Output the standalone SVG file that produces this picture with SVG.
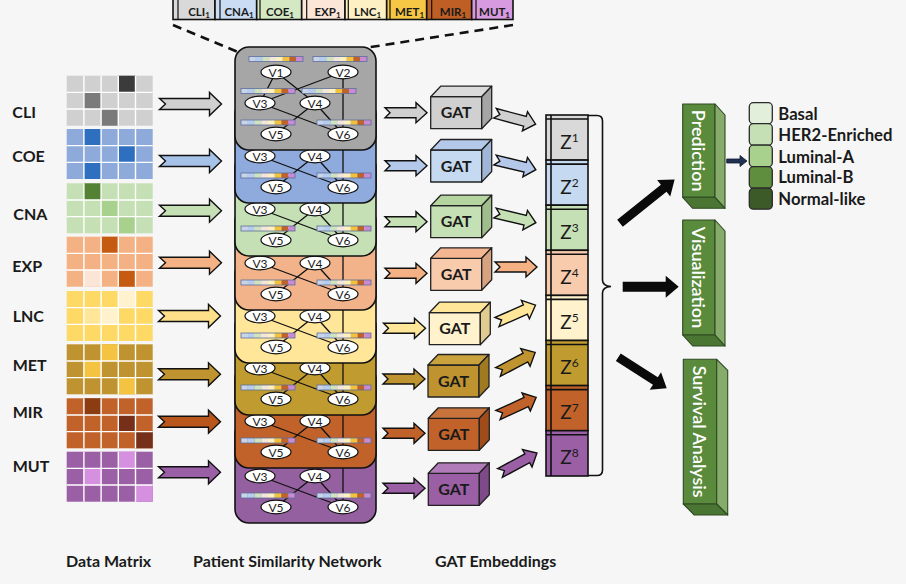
<svg xmlns="http://www.w3.org/2000/svg" width="906" height="584" viewBox="0 0 906 584">
<style>
text{font-family:Lato,'Liberation Sans',sans-serif;fill:#1a1a1a}
.lbl{font-size:16px;font-weight:700}
.tb{font-size:11.5px;font-weight:700;text-anchor:middle}
.ax{stroke:#111;stroke-width:1.4;stroke-linejoin:miter}
.edge{stroke:#111;stroke-width:1.3;fill:none}
.node ellipse{fill:#fff;stroke:#111;stroke-width:1.2}
.vt{font-size:12px;text-anchor:middle;dominant-baseline:central}
.layer{stroke:#111;stroke-width:1.6}
.box{stroke:#222;stroke-width:1.3;stroke-linejoin:round}
.gat{font-size:16px;font-weight:700;text-anchor:middle}
.z{font-size:19px;text-anchor:middle}
.zc{stroke:#111;stroke-width:1.6}
.gr{stroke:#2e4a22;stroke-width:1.1;stroke-linejoin:round}
.gt{font-size:18px;font-weight:600;text-anchor:middle;dominant-baseline:central}
.gt{fill:#fff}
.leg{stroke:#2a2a2a;stroke-width:1.3}
.lt{font-size:16.7px;font-weight:700}
</style>
<defs>
<path id="ba" class="ax" d="M0,-5.5H50V-11.5L62,0L50,11.5V5.5H0L6,0Z"/>
<path id="sa" class="ax" d="M0,-5H31V-10L42,0L31,10V5H0L5,0Z"/>
<g id="grid" stroke="#fff" stroke-width="1.4">
<path d="M17.2,0V50M34.4,0V50M51.6,0V50M68.8,0V50M0,16.67H86M0,33.33H86"/>
</g>
<g id="fb">
<rect x="0" width="6.75" height="5" fill="#c8d4ea"/>
<rect x="6.75" width="6.75" height="5" fill="#b5cdee"/>
<rect x="13.5" width="6.75" height="5" fill="#cfe3c1"/>
<rect x="20.25" width="6.75" height="5" fill="#f3e6da"/>
<rect x="27" width="6.75" height="5" fill="#fff0c2"/>
<rect x="33.75" width="6.75" height="5" fill="#f2c23a"/>
<rect x="40.5" width="6.75" height="5" fill="#c0622a"/>
<rect x="47.25" width="6.75" height="5" fill="#c98ad6"/>
<rect width="54" height="5" fill="none" stroke="#5f6f9a" stroke-width="0.8"/>
</g>
<path id="eT" class="edge" d="M276,72L260,103M276,72L315,103M343,72L260,103"/>
<g id="nT">
<use href="#fb" x="249" y="56.5"/><use href="#fb" x="313" y="56.5"/>
<use href="#fb" x="241" y="88.5"/><use href="#fb" x="302" y="88.5"/>
<g class="node"><ellipse cx="276" cy="72" rx="15" ry="6.8"/><text class="vt" x="276" y="72">V1</text></g>
<g class="node"><ellipse cx="343" cy="72" rx="15" ry="6.8"/><text class="vt" x="343" y="72">V2</text></g>
</g>
<g id="netB">
<path class="edge" d="M343,72V134M260,103L343,134M315,103L276,134M315,103L343,134"/>
<use href="#fb" x="241" y="120"/><use href="#fb" x="317" y="120"/>
<g class="node"><ellipse cx="260" cy="103" rx="15" ry="6.8"/><text class="vt" x="260" y="103">V3</text></g>
<g class="node"><ellipse cx="315" cy="103" rx="15" ry="6.8"/><text class="vt" x="315" y="103">V4</text></g>
<g class="node"><ellipse cx="276" cy="134" rx="15" ry="6.8"/><text class="vt" x="276" y="134">V5</text></g>
<g class="node"><ellipse cx="343" cy="134" rx="15" ry="6.8"/><text class="vt" x="343" y="134">V6</text></g>
</g>
</defs>
<rect width="906" height="584" fill="#f6f6f6"/>

<!-- top feature bar -->
<g id="feature-bar">
<rect x="173" y="-1" width="42" height="20.5" fill="#d9d9d9" class="zc"/>
<rect x="215" y="-1" width="41.7" height="20.5" fill="#c9dcf3" class="zc"/>
<rect x="256.7" y="-1" width="45" height="20.5" fill="#d3e8c3" class="zc"/>
<rect x="301.7" y="-1" width="43.3" height="20.5" fill="#fbe6d8" class="zc"/>
<rect x="345" y="-1" width="41.7" height="20.5" fill="#fdf0c4" class="zc"/>
<rect x="386.7" y="-1" width="40" height="20.5" fill="#f6c744" class="zc"/>
<rect x="426.7" y="-1" width="45" height="20.5" fill="#bf5f26" class="zc"/>
<rect x="471.7" y="-1" width="41.3" height="20.5" fill="#d79ae0" class="zc"/>
<path d="M178,-1V19.5M220,-1V19.5M260,-1V19.5M306.7,-1V19.5M348.3,-1V19.5M390,-1V19.5M431.7,-1V19.5M476,-1V19.5" stroke="#111" stroke-width="1.2"/>
<text class="tb" x="199" y="15.5">CLI<tspan font-size="8" dy="2.5">1</tspan></text>
<text class="tb" x="239" y="15.5">CNA<tspan font-size="8" dy="2.5">1</tspan></text>
<text class="tb" x="280" y="15.5">COE<tspan font-size="8" dy="2.5">1</tspan></text>
<text class="tb" x="327.5" y="15.5">EXP<tspan font-size="8" dy="2.5">1</tspan></text>
<text class="tb" x="367.5" y="15.5">LNC<tspan font-size="8" dy="2.5">1</tspan></text>
<text class="tb" x="409.5" y="15.5">MET<tspan font-size="8" dy="2.5">1</tspan></text>
<text class="tb" x="453" y="15.5">MIR<tspan font-size="8" dy="2.5">1</tspan></text>
<text class="tb" x="494.5" y="15.5">MUT<tspan font-size="8" dy="2.5">1</tspan></text>
</g>
<g id="zoom-lines" stroke="#111" stroke-width="2.6" stroke-dasharray="9 6" fill="none">
<path d="M173,25L238,52"/>
<path d="M513,25L313,56"/>
</g>

<!-- data matrices -->
<g id="mat-cli">
<text class="lbl" x="12.3" y="118.3">CLI</text>
<rect x="66.7" y="75.7" width="86" height="50" fill="#d0d0d0"/>
<rect x="118.3" y="75.7" width="17.2" height="16.67" fill="#3b3b3b"/>
<rect x="83.9" y="92.37" width="17.2" height="16.67" fill="#7b7b7b"/>
<rect x="101.1" y="109.03" width="17.2" height="16.67" fill="#7a7a7a"/>
<use href="#grid" x="66.7" y="75.7"/>
</g>
<g id="mat-coe">
<text class="lbl" x="12.3" y="162.3">COE</text>
<rect x="66.7" y="129" width="86" height="50" fill="#8eaadb"/>
<rect x="83.9" y="129" width="17.2" height="16.67" fill="#2f6fbf"/>
<rect x="118.3" y="145.67" width="17.2" height="16.67" fill="#2f6fbf"/>
<rect x="83.9" y="162.33" width="17.2" height="16.67" fill="#2f6fbf"/>
<use href="#grid" x="66.7" y="129"/>
</g>
<g id="mat-cna">
<text class="lbl" x="13.3" y="220">CNA</text>
<rect x="66.7" y="183.3" width="86" height="50" fill="#c5e0b4"/>
<rect x="83.9" y="183.3" width="17.2" height="16.67" fill="#548235"/>
<rect x="101.1" y="199.97" width="17.2" height="16.67" fill="#a9d18e"/>
<rect x="118.3" y="216.63" width="17.2" height="16.67" fill="#a9d18e"/>
<use href="#grid" x="66.7" y="183.3"/>
</g>
<g id="mat-exp">
<text class="lbl" x="12.3" y="271.7">EXP</text>
<rect x="66.7" y="236.7" width="86" height="50" fill="#f4b183"/>
<rect x="101.1" y="236.7" width="17.2" height="16.67" fill="#c55a11"/>
<rect x="83.9" y="270.03" width="17.2" height="16.67" fill="#fbe5d6"/>
<rect x="118.3" y="270.03" width="17.2" height="16.67" fill="#c55a11"/>
<use href="#grid" x="66.7" y="236.7"/>
</g>
<g id="mat-lnc">
<text class="lbl" x="12.7" y="321.7">LNC</text>
<rect x="66.7" y="291" width="86" height="50" fill="#ffd966"/>
<rect x="118.3" y="291" width="17.2" height="16.67" fill="#fff2cc"/>
<rect x="83.9" y="307.67" width="17.2" height="16.67" fill="#ffe699"/>
<rect x="101.1" y="307.67" width="17.2" height="16.67" fill="#fff2cc"/>
<use href="#grid" x="66.7" y="291"/>
</g>
<g id="mat-met">
<text class="lbl" x="12.7" y="371">MET</text>
<rect x="66.7" y="344.3" width="86" height="50" fill="#bf9430"/>
<rect x="101.1" y="344.3" width="17.2" height="16.67" fill="#f5c342"/>
<rect x="83.9" y="360.97" width="17.2" height="16.67" fill="#f5c342"/>
<rect x="118.3" y="377.63" width="17.2" height="16.67" fill="#f5c342"/>
<use href="#grid" x="66.7" y="344.3"/>
</g>
<g id="mat-mir">
<text class="lbl" x="12.7" y="418.3">MIR</text>
<rect x="66.7" y="398.3" width="86" height="50" fill="#c0622a"/>
<rect x="83.9" y="398.3" width="17.2" height="16.67" fill="#8c3c12"/>
<rect x="118.3" y="414.97" width="17.2" height="16.67" fill="#76301a"/>
<rect x="135.5" y="431.63" width="17.2" height="16.67" fill="#76301a"/>
<use href="#grid" x="66.7" y="398.3"/>
</g>
<g id="mat-mut">
<text class="lbl" x="12.7" y="471.7">MUT</text>
<rect x="66.7" y="451.7" width="86" height="50" fill="#9b5fa6"/>
<rect x="118.3" y="451.7" width="17.2" height="16.67" fill="#d591e0"/>
<rect x="83.9" y="468.37" width="17.2" height="16.67" fill="#d591e0"/>
<rect x="135.5" y="485.03" width="17.2" height="16.67" fill="#d591e0"/>
<use href="#grid" x="66.7" y="451.7"/>
</g>

<!-- patient similarity network layers (bottom first) -->
<g id="net-mut" transform="translate(0,373)"><rect class="layer" x="235" y="47" width="141" height="103" rx="14" fill="#9560a0"/><use href="#netB"/></g>
<g id="net-mir" transform="translate(0,318)"><rect class="layer" x="235" y="47" width="141" height="103" rx="14" fill="#c0622a"/><use href="#netB"/></g>
<g id="net-met" transform="translate(0,265)"><rect class="layer" x="235" y="47" width="141" height="103" rx="14" fill="#bf9b30"/><use href="#netB"/></g>
<g id="net-lnc" transform="translate(0,213)"><rect class="layer" x="235" y="47" width="141" height="103" rx="14" fill="#ffe699"/><use href="#netB"/></g>
<g id="net-exp" transform="translate(0,160)"><rect class="layer" x="235" y="47" width="141" height="103" rx="14" fill="#f2b38a"/><use href="#netB"/></g>
<g id="net-cna" transform="translate(0,106)"><rect class="layer" x="235" y="47" width="141" height="103" rx="14" fill="#c5e0b4"/><use href="#netB"/></g>
<g id="net-coe" transform="translate(0,53)"><rect class="layer" x="235" y="47" width="141" height="103" rx="14" fill="#8faadc"/><use href="#netB"/></g>
<g id="net-cli"><rect class="layer" x="235" y="47" width="141" height="103" rx="14" fill="#a6a6a6"/><use href="#eT"/><use href="#netB"/><use href="#nT"/></g>

<!-- GAT boxes -->
<g id="gat-cli" transform="translate(430.7,96.7)"><rect class="box" width="51" height="32" fill="#d0d0d0"/><polygon class="box" points="0,0 51,0 61,-10.5 10,-10.5" fill="#dadada"/><polygon class="box" points="51,0 61,-10.5 61,21.5 51,32" fill="#a5a5a5"/><text class="gat" x="25.5" y="21.7">GAT</text></g>
<g id="gat-coe" transform="translate(430.7,150)"><rect class="box" width="51" height="32" fill="#c5d9f1"/><polygon class="box" points="0,0 51,0 61,-10.5 10,-10.5" fill="#b4c9e9"/><polygon class="box" points="51,0 61,-10.5 61,21.5 51,32" fill="#9fb6d6"/><text class="gat" x="25.5" y="21.7">GAT</text></g>
<g id="gat-cna" transform="translate(430.7,205.7)"><rect class="box" width="51" height="32" fill="#c5e0b4"/><polygon class="box" points="0,0 51,0 61,-10.5 10,-10.5" fill="#b5d5a0"/><polygon class="box" points="51,0 61,-10.5 61,21.5 51,32" fill="#a0bd8c"/><text class="gat" x="25.5" y="21.7">GAT</text></g>
<g id="gat-exp" transform="translate(430.7,258.3)"><rect class="box" width="51" height="32" fill="#f8cbad"/><polygon class="box" points="0,0 51,0 61,-10.5 10,-10.5" fill="#f4b690"/><polygon class="box" points="51,0 61,-10.5 61,21.5 51,32" fill="#d7a27f"/><text class="gat" x="25.5" y="21.7">GAT</text></g>
<g id="gat-lnc" transform="translate(429.3,312.7)"><rect class="box" width="51" height="32" fill="#fff2cc"/><polygon class="box" points="0,0 51,0 61,-10.5 10,-10.5" fill="#ffe699"/><polygon class="box" points="51,0 61,-10.5 61,21.5 51,32" fill="#e0cc90"/><text class="gat" x="25.5" y="21.7">GAT</text></g>
<g id="gat-met" transform="translate(428,365)"><rect class="box" width="51" height="32" fill="#bf9430"/><polygon class="box" points="0,0 51,0 61,-10.5 10,-10.5" fill="#c9a23e"/><polygon class="box" points="51,0 61,-10.5 61,21.5 51,32" fill="#a07a20"/><text class="gat" x="25.5" y="21.7">GAT</text></g>
<g id="gat-mir" transform="translate(428.3,418.3)"><rect class="box" width="51" height="32" fill="#c0622a"/><polygon class="box" points="0,0 51,0 61,-10.5 10,-10.5" fill="#c8723c"/><polygon class="box" points="51,0 61,-10.5 61,21.5 51,32" fill="#9f4b1a"/><text class="gat" x="25.5" y="21.7">GAT</text></g>
<g id="gat-mut" transform="translate(428.3,473.3)"><rect class="box" width="51" height="32" fill="#9b5fa6"/><polygon class="box" points="0,0 51,0 61,-10.5 10,-10.5" fill="#b07bb8"/><polygon class="box" points="51,0 61,-10.5 61,21.5 51,32" fill="#7f4a8a"/><text class="gat" x="25.5" y="21.7">GAT</text></g>

<!-- Z embeddings column -->
<g id="z-column">
<g id="z1"><rect class="zc" x="546" y="115" width="42" height="45.1" fill="#d9d9d9"/><path class="zc" d="M546,119H588M551,115V160.1"/><text class="z" x="569.5" y="148.5">Z<tspan font-size="12" dy="-7">1</tspan></text></g>
<g id="z2"><rect class="zc" x="546" y="160.1" width="42" height="45.1" fill="#c5d9f1"/><path class="zc" d="M546,164.1H588M551,160.1V205.2"/><text class="z" x="569.5" y="193.6">Z<tspan font-size="12" dy="-7">2</tspan></text></g>
<g id="z3"><rect class="zc" x="546" y="205.2" width="42" height="45.1" fill="#c5e0b4"/><path class="zc" d="M546,209.2H588M551,205.2V250.3"/><text class="z" x="569.5" y="238.7">Z<tspan font-size="12" dy="-7">3</tspan></text></g>
<g id="z4"><rect class="zc" x="546" y="250.3" width="42" height="45.1" fill="#f8cbad"/><path class="zc" d="M546,254.3H588M551,250.3V295.4"/><text class="z" x="569.5" y="283.8">Z<tspan font-size="12" dy="-7">4</tspan></text></g>
<g id="z5"><rect class="zc" x="546" y="295.4" width="42" height="45.1" fill="#fff2cc"/><path class="zc" d="M546,299.4H588M551,295.4V340.5"/><text class="z" x="569.5" y="328.9">Z<tspan font-size="12" dy="-7">5</tspan></text></g>
<g id="z6"><rect class="zc" x="546" y="340.5" width="42" height="45.1" fill="#bf9b30"/><path class="zc" d="M546,344.5H588M551,340.5V385.6"/><text class="z" x="569.5" y="374">Z<tspan font-size="12" dy="-7">6</tspan></text></g>
<g id="z7"><rect class="zc" x="546" y="385.6" width="42" height="45.1" fill="#c0622a"/><path class="zc" d="M546,389.6H588M551,385.6V430.7"/><text class="z" x="569.5" y="419.1">Z<tspan font-size="12" dy="-7">7</tspan></text></g>
<g id="z8"><rect class="zc" x="546" y="430.7" width="42" height="45.3" fill="#9b5fa6"/><path class="zc" d="M546,434.7H588M551,430.7V476"/><text class="z" x="569.5" y="464.2">Z<tspan font-size="12" dy="-7">8</tspan></text></g>
<path id="brace" d="M588,115.5H597Q602.5,115.5 602.5,121V280Q602.5,286 611,286.5Q602.5,287 602.5,293V470Q602.5,475.5 597,475.5H588" fill="none" stroke="#111" stroke-width="1.6"/>
</g>

<!-- output tasks -->
<g id="task-prediction">
<rect class="gr" x="682.7" y="104" width="32.3" height="93.3" fill="#5a8a3c"/>
<polygon class="gr" points="715,104 725,115 725,208.3 715,197.3" fill="#86ab6a"/>
<polygon class="gr" points="682.7,197.3 715,197.3 725,208.3 692.7,208.3" fill="#4b7532"/>
<text class="gt" transform="translate(699,150.7) rotate(90)">Prediction</text>
</g>
<g id="task-visualization">
<rect class="gr" x="682.7" y="220" width="32.3" height="115" fill="#5a8a3c"/>
<polygon class="gr" points="715,220 725,231 725,346 715,335" fill="#86ab6a"/>
<polygon class="gr" points="682.7,335 715,335 725,346 692.7,346" fill="#4b7532"/>
<text class="gt" transform="translate(699,277.5) rotate(90)">Visualization</text>
</g>
<g id="task-survival">
<rect class="gr" x="683.3" y="359.3" width="33.4" height="144.7" fill="#5a8a3c"/>
<polygon class="gr" points="716.7,359.3 727.7,370.3 727.7,515 716.7,504" fill="#86ab6a"/>
<polygon class="gr" points="683.3,504 716.7,504 727.7,515 694.3,515" fill="#4b7532"/>
<text class="gt" transform="translate(700,431.7) rotate(90)">Survival Analysis</text>
</g>

<!-- subtype legend -->
<g id="subtypes">
<rect class="leg" x="749.3" y="102.7" width="23" height="21" rx="4" fill="#e2efda"/>
<rect class="leg" x="749.3" y="123.7" width="23" height="21.5" rx="4" fill="#c5e0b4"/>
<rect class="leg" x="749.3" y="145.2" width="23" height="21.5" rx="4" fill="#a9d18e"/>
<rect class="leg" x="749.3" y="166.7" width="23" height="21.5" rx="4" fill="#5f8f3e"/>
<rect class="leg" x="749.3" y="188.2" width="23" height="21" rx="4" fill="#3b5a28"/>
<text class="lt" x="778.3" y="119.9">Basal</text>
<text class="lt" x="778.3" y="140.9">HER2-Enriched</text>
<text class="lt" x="778.3" y="162.6">Luminal-A</text>
<text class="lt" x="778.3" y="183.2">Luminal-B</text>
<text class="lt" x="778.3" y="205.2">Normal-like</text>
</g>

<!-- connectors -->
<g id="connectors">
<use href="#ba" transform="translate(159.5,104)" fill="#d0d0d0"/>
<use href="#ba" transform="translate(159.5,161)" fill="#a7c2e8"/>
<use href="#ba" transform="translate(159.5,210.7)" fill="#c5e0b4"/>
<use href="#ba" transform="translate(159.5,262.7)" fill="#f4b183"/>
<use href="#ba" transform="translate(158.5,316)" fill="#ffe08a"/>
<use href="#ba" transform="translate(158.5,374.3)" fill="#bf9430"/>
<use href="#ba" transform="translate(158.5,421.7)" fill="#b8561c"/>
<use href="#ba" transform="translate(158.5,472.3)" fill="#9b5fa6"/>

<use href="#sa" transform="translate(385,112.7)" fill="#d0d0d0"/>
<use href="#sa" transform="translate(385,165.7)" fill="#b4c9e9"/>
<use href="#sa" transform="translate(385,221.7)" fill="#c5e0b4"/>
<use href="#sa" transform="translate(385,273.3)" fill="#f4b183"/>
<use href="#sa" transform="translate(383.5,328.3)" fill="#ffe699"/>
<use href="#sa" transform="translate(383,379)" fill="#bf9430"/>
<use href="#sa" transform="translate(383,433.3)" fill="#c0622a"/>
<use href="#sa" transform="translate(383,488.3)" fill="#9b5fa6"/>

<use href="#sa" transform="translate(495,113.3) rotate(15)" fill="#d0d0d0"/>
<use href="#sa" transform="translate(495,160) rotate(13.4)" fill="#b4c9e9"/>
<use href="#sa" transform="translate(495,213) rotate(13.4)" fill="#c5e0b4"/>
<use href="#sa" transform="translate(495,267)" fill="#f4b183"/>
<use href="#sa" transform="translate(497,322) rotate(-23.6)" fill="#ffe699"/>
<use href="#sa" transform="translate(498,372) rotate(-27.8)" fill="#bf9430"/>
<use href="#sa" transform="translate(498,415) rotate(-24.7)" fill="#c0622a"/>
<use href="#sa" transform="translate(500,473) rotate(-28.4)" fill="#9b5fa6"/>

<path transform="translate(620,223.3) rotate(-38.7)" d="M0,-4.5H56V-10.5L70,0L56,10.5V4.5H0Z" fill="#0a0a0a"/>
<path transform="translate(622.7,286.7)" d="M0,-5H43V-11L56,0L43,11V5H0Z" fill="#0a0a0a"/>
<path transform="translate(618.3,357.3) rotate(32.6)" d="M0,-4.5H44V-10.5L57.5,0L44,10.5V4.5H0Z" fill="#0a0a0a"/>
<path d="M726.7,159H740V155.5L747,161L740,166.5V163H726.7Z" fill="#1f3050" stroke="#0f1a33" stroke-width="0.8"/>
</g>

<!-- stage captions -->
<g id="captions">
<text class="lbl" x="66" y="566.7">Data Matrix</text>
<text class="lbl" x="193" y="566.7">Patient Similarity Network</text>
<text class="lbl" x="435" y="566.7">GAT Embeddings</text>
</g>
</svg>
